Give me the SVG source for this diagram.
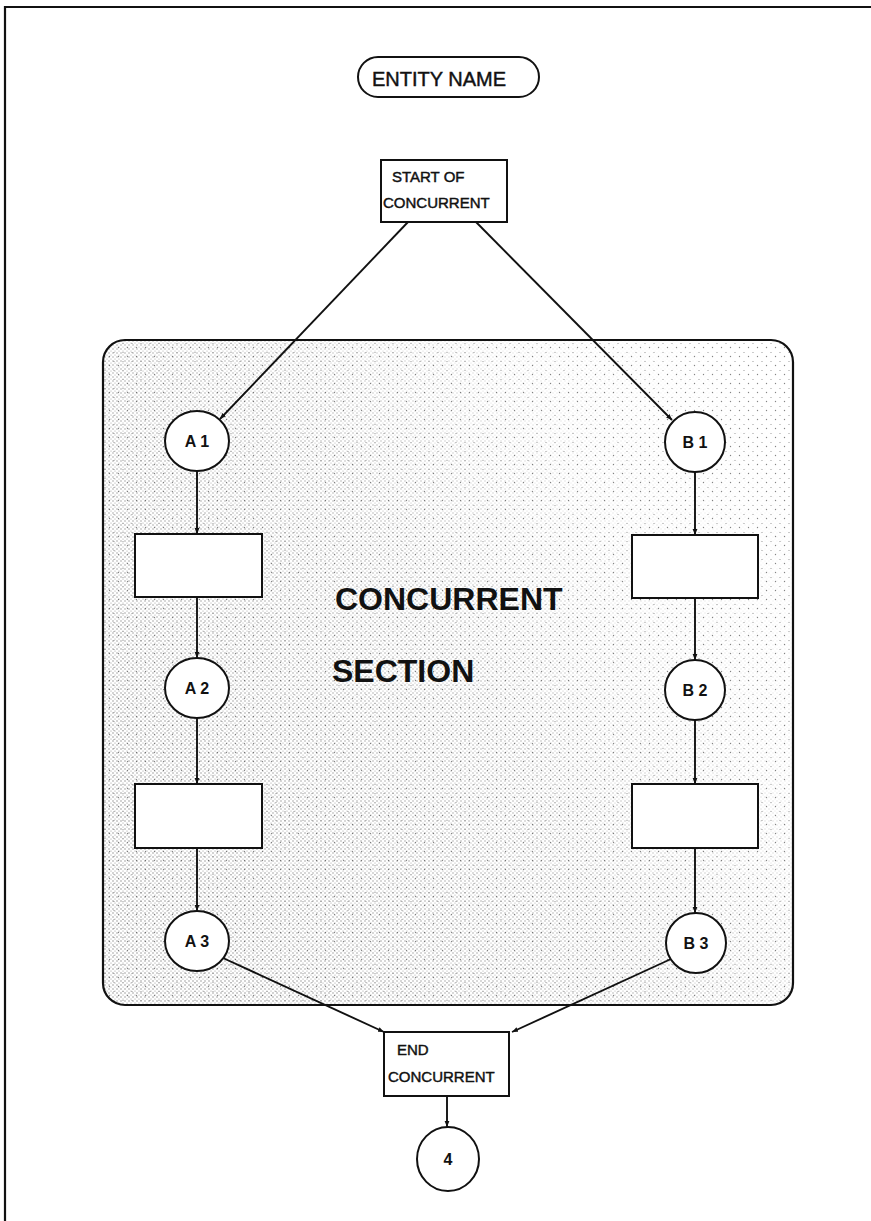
<svg xmlns="http://www.w3.org/2000/svg" width="871" height="1221" viewBox="0 0 871 1221">
  <style>
    .frame { stroke: #111; stroke-width: 2.2; fill: none; }
    .box { fill: #fff; stroke: #111; stroke-width: 2; }
    .node { fill: #fff; stroke: #111; stroke-width: 2; }
    .lbl { font-family: "Liberation Sans", Arial, sans-serif; fill: #111; stroke: #111; stroke-width: 0.45; }
    .big { font-family: "Liberation Sans", Arial, sans-serif; font-weight: bold; font-size: 32px; fill: #111; }
    .circ { font-family: "Liberation Sans", Arial, sans-serif; font-weight: bold; font-size: 16px; fill: #111; text-anchor: middle; }
    .edge { stroke: #111; stroke-width: 1.9; fill: none; marker-end: url(#arrow); }
  </style>
  <defs>
    <marker id="arrow" viewBox="0 0 10 10" refX="10" refY="5" markerWidth="6" markerHeight="6" orient="auto" markerUnits="userSpaceOnUse">
      <path d="M0,1 L10,5 L0,9 Z" fill="#111"/>
    </marker>
    <!-- sparse stipple everywhere -->
    <pattern id="dotsB" width="9" height="9" patternUnits="userSpaceOnUse">
      <circle cx="1.5" cy="5.5" r="0.7" fill="#333"/>
      <circle cx="6" cy="1.5" r="0.6" fill="#444"/>
    </pattern>
    <!-- denser stipple, faded out toward the upper right -->
    <pattern id="dotsA" width="4" height="4" patternUnits="userSpaceOnUse">
      <circle cx="1" cy="1" r="0.7" fill="#333"/>
      <circle cx="3" cy="3" r="0.55" fill="#444"/>
    </pattern>
    <linearGradient id="fade" gradientUnits="userSpaceOnUse" x1="150" y1="800" x2="790" y2="420">
      <stop offset="0" stop-color="#fff"/>
      <stop offset="0.45" stop-color="#bbb"/>
      <stop offset="0.75" stop-color="#333"/>
      <stop offset="1" stop-color="#000"/>
    </linearGradient>
    <mask id="denseMask" maskUnits="userSpaceOnUse" x="100" y="335" width="700" height="675">
      <rect x="103" y="340" width="690" height="665" fill="url(#fade)"/>
    </mask>
    <clipPath id="regionClip">
      <rect x="103" y="340" width="690" height="665" rx="22" ry="22"/>
    </clipPath>
  </defs>

  <!-- page frame -->
  <path class="frame" d="M5,1221 L5,7 L871,7"/>

  <!-- shaded concurrent region -->
  <g id="concurrent-section">
    <rect x="103" y="340" width="690" height="665" rx="22" ry="22" fill="#fff"/>
    <g clip-path="url(#regionClip)">
      <rect x="103" y="340" width="690" height="665" fill="url(#dotsB)" opacity="0.6"/>
      <rect x="103" y="340" width="690" height="665" fill="url(#dotsA)" mask="url(#denseMask)" opacity="0.6"/>
    </g>
    <rect x="103" y="340" width="690" height="665" rx="22" ry="22" fill="none" stroke="#111" stroke-width="2.2"/>
    <text class="big" x="335" y="610">CONCURRENT</text>
    <text class="big" x="332" y="682">SECTION</text>
  </g>

  <!-- entity name -->
  <g id="entity-name">
    <rect x="358" y="57" width="181" height="40" rx="20" ry="20" class="box"/>
    <text class="lbl" x="372" y="86" font-size="20">ENTITY NAME</text>
  </g>

  <g id="start-concurrent">
    <rect x="381" y="160" width="126" height="62" class="box"/>
    <text class="lbl" x="392" y="182" font-size="15">START OF</text>
    <text class="lbl" x="383" y="208" font-size="15">CONCURRENT</text>
  </g>

  <g id="A1"><ellipse cx="197" cy="441" rx="32" ry="30" class="node"/><text class="circ" x="197" y="447">A 1</text></g>
  <g id="A1-task"><rect x="135" y="534" width="127" height="63" class="box"/></g>
  <g id="A2"><ellipse cx="197" cy="688" rx="32" ry="30" class="node"/><text class="circ" x="197" y="694">A 2</text></g>
  <g id="A2-task"><rect x="135" y="784" width="127" height="64" class="box"/></g>
  <g id="A3"><ellipse cx="197" cy="941" rx="32" ry="30" class="node"/><text class="circ" x="197" y="947">A 3</text></g>

  <g id="B1"><ellipse cx="695" cy="442" rx="30" ry="30" class="node"/><text class="circ" x="695" y="448">B 1</text></g>
  <g id="B1-task"><rect x="632" y="535" width="126" height="63" class="box"/></g>
  <g id="B2"><ellipse cx="695" cy="690" rx="30" ry="30" class="node"/><text class="circ" x="695" y="696">B 2</text></g>
  <g id="B2-task"><rect x="632" y="784" width="126" height="64" class="box"/></g>
  <g id="B3"><ellipse cx="696" cy="943" rx="30" ry="30" class="node"/><text class="circ" x="696" y="949">B 3</text></g>

  <g id="end-concurrent">
    <rect x="384" y="1032" width="125" height="64" class="box"/>
    <text class="lbl" x="397" y="1055" font-size="15">END</text>
    <text class="lbl" x="388" y="1082" font-size="15">CONCURRENT</text>
  </g>

  <g id="node-4"><ellipse cx="448" cy="1159" rx="31" ry="32" class="node"/><text class="circ" x="448" y="1165" font-size="15">4</text></g>

  <g id="connectors">
    <line class="edge" x1="408" y1="222" x2="220" y2="419"/>
    <line class="edge" x1="476" y1="222" x2="672" y2="420"/>
    <line class="edge" x1="197" y1="471" x2="197" y2="534"/>
    <line class="edge" x1="197" y1="597" x2="197" y2="658"/>
    <line class="edge" x1="197" y1="718" x2="197" y2="784"/>
    <line class="edge" x1="197" y1="848" x2="197" y2="911"/>
    <line class="edge" x1="695" y1="472" x2="695" y2="535"/>
    <line class="edge" x1="695" y1="598" x2="695" y2="660"/>
    <line class="edge" x1="695" y1="720" x2="695" y2="784"/>
    <line class="edge" x1="695" y1="848" x2="695" y2="913"/>
    <line class="edge" x1="223" y1="958" x2="384" y2="1032"/>
    <line class="edge" x1="671" y1="959" x2="512" y2="1032"/>
    <line class="edge" x1="447" y1="1096" x2="447" y2="1127"/>
  </g>
</svg>
